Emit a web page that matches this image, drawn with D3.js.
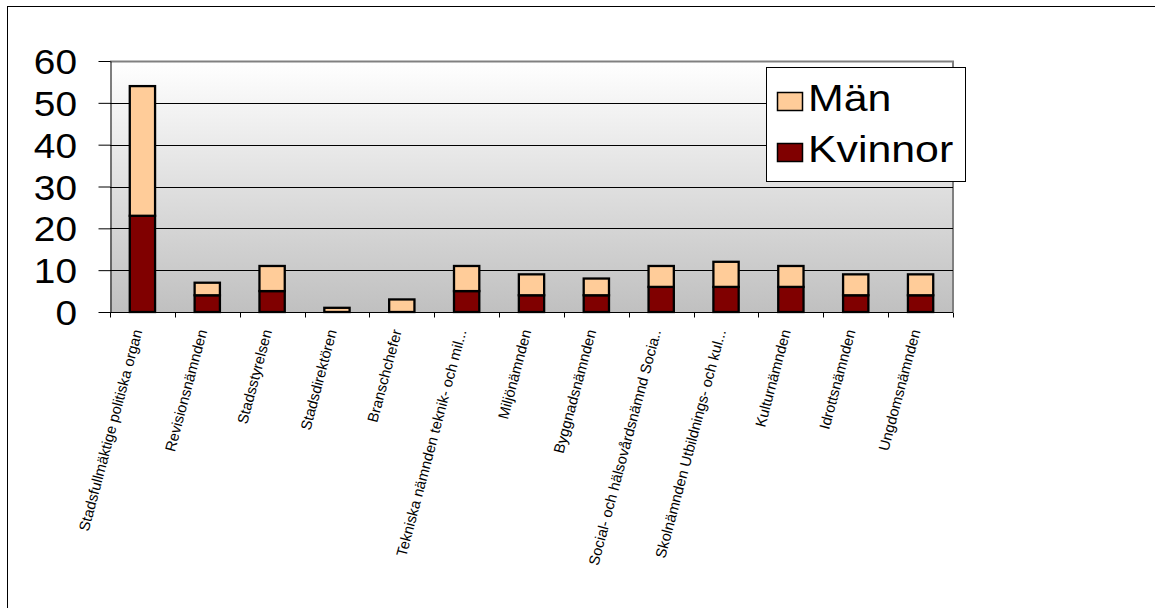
<!DOCTYPE html>
<html>
<head>
<meta charset="utf-8">
<script src="https://cdn.jsdelivr.net/npm/d3@7"></script>
<style>
  html, body { margin: 0; padding: 0; background: #fff; }
  svg { display: block; font-family: Arial, "Liberation Sans", sans-serif; }
</style>
</head>
<body>
<svg id="chart" width="1155" height="608"></svg>
<script>
// Committee / body names along the x axis
const categories = [
  "Stadsfullmäktige politiska organ",
  "Revisionsnämnden",
  "Stadsstyrelsen",
  "Stadsdirektören",
  "Branschchefer",
  "Tekniska nämnden teknik- och mil...",
  "Miljönämnden",
  "Byggnadsnämnden",
  "Social- och hälsovårdsnämnd Socia..",
  "Skolnämnden Utbildnings- och kul...",
  "Kulturnämnden",
  "Idrottsnämnden",
  "Ungdomsnämnden"
];
// Number of women (bottom segment) and men (top segment)
const kvinnor = [23, 4, 5, 0, 0, 5, 4, 4, 6, 6, 6, 4, 4];
const man     = [31, 3, 6, 1, 3, 6, 5, 4, 5, 6, 5, 5, 5];
const yTicks  = [0, 10, 20, 30, 40, 50, 60];
const seriesNames = ["Män", "Kvinnor"];
const seriesColors = { "Män": "#FFCC99", "Kvinnor": "#800000" };

const svg = d3.select("#chart");

// outer chart frame
svg.append("rect")
  .attr("x", 7.5).attr("y", 6.5)
  .attr("width", 1400).attr("height", 900)
  .attr("fill", "none").attr("stroke", "#000").attr("stroke-width", 1);

const plot = { left: 110, right: 953, top: 61, bottom: 312 };

const x = d3.scaleBand().domain(categories).range([plot.left, plot.right]).padding(0);
const y = d3.scaleLinear().domain([0, 60]).range([plot.bottom, plot.top]);

// plot background gradient
const defs = svg.append("defs");
const grad = defs.append("linearGradient").attr("id", "bg")
  .attr("x1", 0).attr("y1", 0).attr("x2", 0).attr("y2", 1);
grad.append("stop").attr("offset", "0%").attr("stop-color", "#ffffff");
grad.append("stop").attr("offset", "100%").attr("stop-color", "#c0c0c0");

svg.append("rect")
  .attr("x", plot.left).attr("y", plot.top)
  .attr("width", plot.right - plot.left).attr("height", plot.bottom - plot.top)
  .attr("fill", "url(#bg)");

// plot frame: grey top and right
svg.append("path")
  .attr("d", `M${plot.left},${plot.top + 0.5}H${plot.right}V${plot.bottom}`)
  .attr("fill", "none").attr("stroke", "#808080").attr("stroke-width", 2);

// gridlines
svg.append("g").selectAll("line")
  .data(yTicks.filter(t => t > 0 && t < 60))
  .join("line")
  .attr("x1", plot.left).attr("x2", plot.right)
  .attr("y1", d => Math.round(y(d)) + 0.5).attr("y2", d => Math.round(y(d)) + 0.5)
  .attr("stroke", "#000").attr("stroke-width", 1);

// stacked bars
const stackData = categories.map((c, i) => ({ cat: c, "Kvinnor": kvinnor[i], "Män": man[i] }));
const stack = d3.stack().keys(["Kvinnor", "Män"]);
const layers = stack(stackData);
const barW = x.bandwidth() * 0.39;

svg.append("g").selectAll("g")
  .data(layers)
  .join("g")
  .attr("fill", d => seriesColors[d.key])
  .selectAll("rect")
  .data(d => d.filter(s => s[1] - s[0] > 0))
  .join("rect")
  .attr("x", d => x(d.data.cat) + x.bandwidth() / 2 - barW / 2)
  .attr("y", d => y(d[1]))
  .attr("width", barW)
  .attr("height", d => y(d[0]) - y(d[1]))
  .attr("stroke", "#000").attr("stroke-width", 2.3);

// y axis (labels slightly widened horizontally)
const labelStretch = 1.11;
const yAxis = d3.axisLeft(y).tickValues(yTicks).tickSize(12).tickPadding(21).tickSizeOuter(0);
const gy = svg.append("g").attr("transform", `translate(${plot.left + 0.5},0)`).call(yAxis);
gy.select(".domain").attr("stroke", "#000");
gy.selectAll(".tick line").attr("stroke", "#000");
gy.selectAll(".tick text")
  .attr("font-size", 35)
  .attr("font-family", "Arial, 'Liberation Sans', sans-serif")
  .attr("fill", "#000")
  .attr("x", -33.5 / labelStretch)
  .attr("transform", `scale(${labelStretch},1)`)
  .attr("dy", "0.36em");

// x axis with ticks on category boundaries
const gx = svg.append("g").attr("transform", `translate(0,${plot.bottom + 0.5})`);
gx.append("line").attr("x1", plot.left).attr("x2", plot.right).attr("stroke", "#000");
const bounds = categories.map(c => x(c)).concat([plot.right]);
gx.selectAll("line.tk").data(bounds).join("line").attr("class", "tk")
  .attr("x1", d => Math.round(d) + 0.5).attr("x2", d => Math.round(d) + 0.5)
  .attr("y1", 0).attr("y2", 5).attr("stroke", "#000");

// rotated category labels
svg.append("g").selectAll("text")
  .data(categories)
  .join("text")
  .attr("transform", d => `translate(${x(d) + x.bandwidth() / 2},331) rotate(-75)`)
  .attr("text-anchor", "end")
  .attr("font-size", 14.8)
  .attr("fill", "#000")
  .text(d => d);

// legend
const legendStretch = 1.19;
const lg = svg.append("g");
lg.append("rect")
  .attr("x", 766.5).attr("y", 67.5).attr("width", 199).attr("height", 114)
  .attr("fill", "#fff").attr("stroke", "#000").attr("stroke-width", 1);
const legendRows = lg.selectAll("g.row").data(seriesNames).join("g").attr("class", "row")
  .attr("transform", (d, i) => `translate(0,${i * 51})`);
legendRows.append("rect")
  .attr("x", 777.5).attr("y", 92.5).attr("width", 25).attr("height", 18)
  .attr("fill", d => seriesColors[d]).attr("stroke", "#000").attr("stroke-width", 1.5);
legendRows.append("text")
  .attr("transform", `translate(808,110.5) scale(${legendStretch},1)`)
  .attr("font-size", 36).attr("fill", "#000")
  .text(d => d);
</script>
</body>
</html>
